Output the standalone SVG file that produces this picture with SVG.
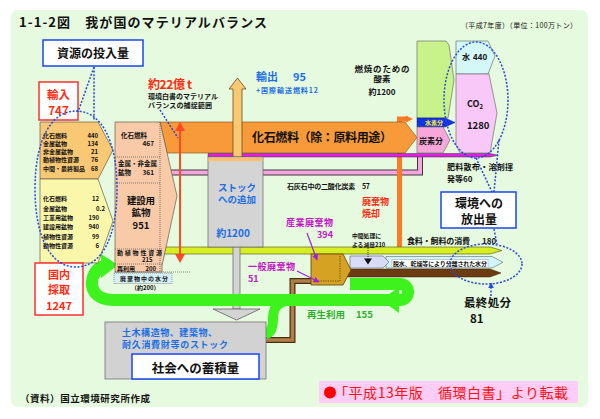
<svg xmlns="http://www.w3.org/2000/svg" width="600" height="419" viewBox="0 0 600 419">
<defs>
<style>
text{font-family:"Noto Sans CJK JP","Noto Sans CJK SC",sans-serif;fill:#111;}
.b{font-weight:bold;}
.t6{font-size:6px;font-weight:bold;}
.t65{font-size:6.5px;font-weight:bold;}
.t7{font-size:7px;font-weight:bold;}
.t8{font-size:8px;font-weight:bold;}
.t9{font-size:9px;font-weight:bold;}
.t95{font-size:9.5px;font-weight:bold;}
.t12{font-size:12px;font-weight:bold;}
.mid{text-anchor:middle;}
.end{text-anchor:end;}
.blue{fill:#1a6ee8;}
.red{fill:#ff2a10;}
.mag{fill:#c414c8;}
.grn{fill:#2eb02e;}
.dot{fill:none;stroke:#2448e0;stroke-width:1.5;stroke-dasharray:2 1.6;}
.sep{fill:none;stroke:#555;stroke-width:0.7;stroke-dasharray:1 1;}
.edge{stroke:#6a5a48;stroke-width:0.7;}
</style>
<marker id="pa" viewBox="0 0 10 10" refX="9" refY="5" markerWidth="5" markerHeight="5" orient="auto"><path d="M0,0 L10,5 L0,10 z" fill="#9a1ee6"/></marker>
<marker id="ba" viewBox="0 0 10 10" refX="9" refY="5" markerWidth="4" markerHeight="4" orient="auto"><path d="M0,0 L10,5 L0,10 z" fill="#2448e0"/></marker>
</defs>
<rect width="600" height="419" fill="#fff"/>
<rect x="11" y="10" width="577" height="397" rx="7" fill="#e6fadf"/>
<text x="19" y="27" class="b" font-size="13" textLength="248">1-1-2図　我が国のマテリアルバランス</text>
<text x="461" y="27.5" font-size="7" textLength="116">（平成7年度）（単位：100万トン）</text>

<g id="connectors">
 <path d="M168,172.5 H420 V155" fill="none" stroke="#3a3a3a" stroke-width="6"/>
 <path d="M168,172.5 H420 V155" fill="none" stroke="#f7a6df" stroke-width="4"/>
 <path d="M399.5,247 V119 H408" fill="none" stroke="#ff7a22" stroke-width="5"/>
 <polygon points="406,115.5 413,119 406,122.5" fill="#ff7a22"/>
 <polygon points="160,122 405,122 417,137.5 405,153 167,153" fill="#f89a3a" stroke="#7a4a18" stroke-width="0.6"/>
 <text x="252" y="142" font-size="12" class="b" textLength="140">化石燃料（除：原料用途）</text>
 <polygon points="208,153.5 490,153.5 498,155.2 490,157 208,157" fill="#e21ee6" stroke="#333" stroke-width="0.5"/>
 <polygon points="160,247 490,247 502,250.5 490,254 160,254" fill="#d6ee22" stroke="#4a4a20" stroke-width="0.6"/>
 <polygon points="386,256.5 492,256.5 503,262.3 492,268 386,268" fill="#d2f4fc" stroke="#5a6a70" stroke-width="0.6"/>
 <polygon points="350,256 383,256 389,262 383,268 350,268" fill="#d8dcf6" stroke="#5a5a70" stroke-width="0.6"/>
 <line x1="368" y1="248" x2="368" y2="259" stroke="#111" stroke-width="0.8" stroke-dasharray="1 1"/>
 <polygon points="364,258.5 372,258.5 368,264.5" fill="#111"/>
 <rect x="392" y="259.5" width="96" height="8" fill="#fff" stroke="#888" stroke-width="0.4"/>
 <text x="393" y="266" class="t6" textLength="94">脱水、乾燥等により分離された水分</text>
 <polygon points="347,269 490,269 501,273 490,277 347,277" fill="#6b3b12" stroke="#3a2008" stroke-width="0.5"/>
 <path d="M312,281 H292.5 V340 H266" fill="none" stroke="#4a2c10" stroke-width="6"/>
 <path d="M312,281 H292.5 V340 H266" fill="none" stroke="#b0804c" stroke-width="3.6"/>
 <rect x="233" y="247" width="7" height="62" fill="#d4d4d4" stroke="#707070" stroke-width="0.8"/>
 <polygon points="213,309 260,309 236.5,320" fill="#d4d4d4" stroke="#606060" stroke-width="0.8"/>
 <path d="M350,284 H400 A8,8 0 0 1 400,300 H113 C99,300 91,292 92,282 C93,273 97,268 104,266" fill="none" stroke="#3ef21e" stroke-width="12"/>
 <path d="M294,300 C279,300 273,307 273,318 C273,328 271,333 266,334" fill="none" stroke="#3ef21e" stroke-width="10"/>
 <polygon points="399,287 381,300 399,313" fill="#3ef21e"/>
 <polygon points="101,254 118,265 101,278" fill="#3ef21e"/>
 <text x="307" y="318" class="t95 grn" textLength="38">再生利用</text>
 <text x="356" y="318" class="t95 grn">155</text>
 <line x1="180" y1="128" x2="180" y2="257" stroke="#ff4a22" stroke-width="2"/>
 <polygon points="175,131 180,122 185,131" fill="#ff4a22"/>
 <polygon points="175,254 180,263 185,254" fill="#ff4a22"/>
 <polygon points="233,157 233,89 229,89 237.5,78 246,89 242,89 242,157" fill="#f8c872" stroke="#6a4a20" stroke-width="0.8"/>
</g>

<g id="resource-input">
 <rect x="43" y="40" width="100" height="26" fill="#fff" stroke="#1a46f0" stroke-width="1.5"/>
 <text x="93" y="57.5" class="t12 mid">資源の投入量</text>
</g>
<g id="import">
 <rect x="39" y="82" width="39" height="38" fill="#fff" stroke="#ff3030" stroke-width="1.5"/>
 <text x="58.5" y="98.5" font-size="11.5" class="b mid red">輸入</text>
 <text x="58.5" y="114.5" font-size="11.5" class="b mid red">747</text>
</g>
<g id="import-breakdown">
 <polygon points="40,122 98,122 113,150 98,179 40,179" fill="#f8c874" class="edge"/>
 <text x="43" y="137.5" class="t6">化石燃料</text><text x="98" y="137.5" class="t6 end">440</text>
 <text x="43" y="146" class="t6">金属鉱物</text><text x="98" y="146" class="t6 end">134</text>
 <text x="43" y="154" class="t6">非金属鉱物</text><text x="98" y="154" class="t6 end">21</text>
 <text x="43" y="162" class="t6">動植物性資源</text><text x="98" y="162" class="t6 end">76</text>
 <text x="43" y="170.5" class="t6">中間・最終製品</text><text x="98" y="170.5" class="t6 end">68</text>
</g>
<g id="domestic-breakdown">
 <polygon points="40,179 98,179 113,221 98,263 40,263" fill="#fbf7aa" class="edge"/>
 <text x="43" y="200.5" class="t6">化石燃料</text><text x="99" y="200.5" class="t6 end">12</text>
 <text x="43" y="210.5" class="t6">金属鉱物</text><text x="105" y="210.5" class="t6 end">0.2</text>
 <text x="43" y="219.5" class="t6">工業用鉱物</text><text x="99" y="219.5" class="t6 end">190</text>
 <text x="43" y="229" class="t6">建設用鉱物</text><text x="99" y="229" class="t6 end">940</text>
 <text x="43" y="238.5" class="t6">植物性資源</text><text x="99" y="238.5" class="t6 end">99</text>
 <text x="43" y="248" class="t6">動物性資源</text><text x="99" y="248" class="t6 end">6</text>
</g>
<g id="domestic">
 <rect x="35" y="263" width="48" height="52" fill="#fff" stroke="#ff3030" stroke-width="1.5"/>
 <text x="59" y="278.5" font-size="11" class="b mid red">国内</text>
 <text x="59" y="294" font-size="11" class="b mid red">採取</text>
 <text x="59" y="309.5" font-size="11" class="b mid red">1247</text>
</g>
<g id="total-input">
 <polygon points="115,122 160,122 177,196 162,266 162,272 115,272" fill="#f8caa8" class="edge"/>
 <path d="M115,157 H160 M115,183 H160 M115,249 H162 M115,264 H162 M160,122 V272 M115,272 H190" class="sep"/>
 <text x="121" y="137.5" class="t65">化石燃料</text><text x="154" y="146" class="t65 end">467</text>
 <text x="118" y="165.5" class="t65">金属・非金属</text>
 <text x="118" y="175" class="t65">鉱物</text><text x="154" y="175" class="t65 end">361</text>
 <text x="141" y="203.5" font-size="9.5" class="b mid" textLength="28">建設用</text>
 <text x="141" y="216" font-size="9.5" class="b mid">鉱物</text>
 <text x="141" y="228.5" font-size="9.5" class="b mid">951</text>
 <text x="117" y="254.5" class="t6" textLength="45">動植物性資源</text>
 <text x="142" y="262" class="t6">215</text>
 <text x="117" y="270.5" class="t6">再利用</text><text x="156" y="270.5" class="t6 end">200</text>
</g>
<g id="waste-water">
 <rect x="114" y="273" width="58" height="10.5" fill="#d6f0f8" stroke="#555" stroke-width="0.6" stroke-dasharray="1 1"/>
 <text x="120" y="281" class="t6" textLength="48">廃棄物中の水分</text>
 <text x="131" y="290" class="t6">（約200）</text>
</g>
<g id="capture-range">
 <text x="148" y="89" font-size="12" class="b red" textLength="44">約22億 t</text>
 <text x="148" y="99" class="t7" textLength="70">環境白書のマテリアル</text>
 <text x="148" y="108" class="t7" textLength="64">バランスの捕捉範囲</text>
</g>
<g id="export">
 <text x="256" y="80.5" font-size="11" class="b blue">輸出</text>
 <text x="293" y="80.5" font-size="11" class="b blue">95</text>
 <text x="256" y="93" class="t7 blue" textLength="62">+国際輸送燃料12</text>
</g>
<g id="stock-addition">
 <rect x="208" y="157" width="55" height="90" fill="#d4d4d4" stroke="#707070" stroke-width="0.8"/>
 <rect x="208.4" y="157.4" width="54.2" height="3.8" fill="#f8c070"/>
 <text x="237" y="190.5" font-size="9.5" class="b mid blue" textLength="38">ストック</text>
 <text x="237" y="203" font-size="9.5" class="b mid blue" textLength="38">への追加</text>
 <text x="233" y="237" font-size="10" class="b mid blue">約1200</text>
</g>
<g id="society-stock">
 <rect x="105" y="322" width="161" height="57" fill="#d2d2d2" stroke="#707070" stroke-width="0.8"/>
 <text x="122" y="335.5" class="t9 blue" textLength="95">土木構造物、建築物、</text>
 <text x="122" y="347.5" class="t9 blue" textLength="106">耐久消費財等のストック</text>
 <rect x="132" y="354" width="127" height="25" fill="#fff" stroke="#1a46f0" stroke-width="1.5"/>
 <text x="195.5" y="373" font-size="12.5" class="b mid">社会への蓄積量</text>
</g>
<g id="limestone-label">
 <text x="287" y="189" class="t7" textLength="83">石灰石中の二酸化炭素　57</text>
</g>
<g id="incineration">
 <text x="362" y="205" class="t9 red">廃棄物</text>
 <text x="362" y="217" class="t9 red">焼却</text>
</g>
<g id="industrial-waste">
 <text x="286" y="226" class="t9 mag" textLength="47">産業廃棄物</text>
 <text x="333" y="237.5" class="t9 mag end">394</text>
</g>
<g id="general-waste">
 <text x="248" y="269.5" class="t9 mag" textLength="47">一般廃棄物</text>
 <text x="248" y="281.5" class="t9 mag">51</text>
</g>
<g id="waste">
 <polygon points="311,254 343,254 351,270 343,285 311,285" fill="#d6a224" stroke="#5a4010" stroke-width="0.8"/>
 <path d="M340,256 V281 H313" fill="none" stroke="#3a2a08" stroke-width="0.7" stroke-dasharray="1.2 1.2"/>
</g>
<g id="intermediate">
 <text x="352" y="238" font-size="5.8" class="b">中間処理に</text>
 <text x="352" y="246.5" font-size="5.8" class="b">よる減量210</text>
</g>
<g id="food">
 <text x="407" y="244" class="t8" textLength="63">食料・飼料の消費</text>
 <text x="482" y="244" class="t8">180</text>
</g>
<g id="oxygen">
 <polygon points="417,41 446,41 449,45 454,80 448,118 417,118" fill="#c8f28a" stroke="#707070" stroke-width="0.7"/>
 <text x="382" y="71.5" font-size="8.5" class="b mid" textLength="55">燃焼のための</text>
 <text x="382" y="82" font-size="8.5" class="b mid">酸素</text>
 <text x="382" y="94.5" class="t8 mid">約1200</text>
</g>
<g id="hydrogen">
 <polygon points="417,118 445,118 455,122.5 445,127 417,127" fill="#1434e8" stroke="#0a1a70" stroke-width="0.5"/>
 <text x="425" y="125.3" font-size="6" class="b" style="fill:#ffee20">水素分</text>
</g>
<g id="carbon">
 <polygon points="417,127 443,127 450,140 443,153 417,153" fill="#f8a8d8" stroke="#707070" stroke-width="0.7"/>
 <text x="431" y="143.5" class="t8 mid">炭素分</text>
</g>
<g id="water">
 <polygon points="456,41 488,41 495,56 488,74 456,74" fill="#d4f8f8" stroke="#707070" stroke-width="0.7"/>
 <text x="462" y="60" class="t8">水</text><text x="473" y="60" class="t8">440</text>
</g>
<g id="co2">
 <polygon points="456,74 489,74 497,113 490,153 460,153 456,145" fill="#f8c8f8" stroke="#707070" stroke-width="0.7"/>
 <text x="467" y="107" font-size="9" class="b">CO<tspan font-size="6" dy="1.5">2</tspan></text>
 <text x="467" y="129" font-size="9.5" class="b">1280</text>
</g>
<g id="fertilizer">
 <text x="447" y="170" class="t8" textLength="66">肥料散布・溶剤揮</text>
 <text x="447" y="181.5" class="t8">発等60</text>
</g>
<g id="emission">
 <rect x="441" y="192" width="75" height="36" fill="#fff" stroke="#1a46f0" stroke-width="1.5"/>
 <text x="479" y="208" class="t12 mid">環境への</text>
 <text x="479" y="223.5" class="t12 mid">放出量</text>
</g>
<g id="final-disposal">
 <text x="464" y="306.5" font-size="11.5" class="b" textLength="47">最終処分</text>
 <text x="470" y="322.5" font-size="11.5" class="b">81</text>
</g>

<g id="callouts">
 <line x1="307" y1="233" x2="317" y2="260" stroke="#9a1ee6" stroke-width="1.2" marker-end="url(#pa)"/>
 <line x1="297" y1="271" x2="319" y2="282" stroke="#9a1ee6" stroke-width="1.2" marker-end="url(#pa)"/>
 <line x1="160" y1="110" x2="178" y2="138" class="dot" stroke-width="1"/>
 <line x1="94" y1="67" x2="94" y2="120" class="dot"/>
 <line x1="94" y1="67" x2="78" y2="112" class="dot"/>
 <path d="M76,111 C101,111 117,140 117,189 C117,238 101,267 76,267 C51,267 35,238 35,189 C35,140 51,111 76,111 Z" class="dot"/>
 <ellipse cx="476" cy="100" rx="32" ry="58" class="dot"/>
 <line x1="476" y1="158" x2="492" y2="192" class="dot"/>
 <line x1="499" y1="140" x2="494" y2="192" class="dot"/>
 <line x1="494" y1="229" x2="497" y2="244" class="dot"/>
 <ellipse cx="486" cy="264" rx="36" ry="20" class="dot"/>
 <line x1="491" y1="296" x2="491" y2="283" class="dot" marker-end="url(#ba)"/>
</g>

<text x="20" y="402" font-size="9.5" class="b" textLength="130">（資料）国立環境研究所作成</text>
<g id="source-note">
 <rect x="319" y="381" width="259" height="22" fill="#ffcdf6"/>
 <circle cx="330" cy="392.5" r="6" fill="#ff0000"/>
 <text x="334" y="398" font-size="14" style="fill:#ff1010" textLength="234">「平成13年版　循環白書」より転載</text>
</g>
</svg>
